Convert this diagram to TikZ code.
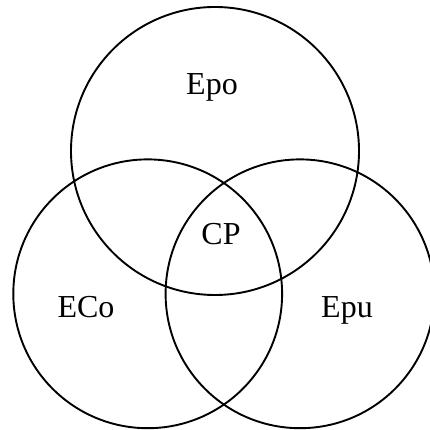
\documentclass[tikz,border=0pt]{standalone}
\usepackage{fontspec}
\setmainfont{Liberation Serif}
\begin{document}
\begin{tikzpicture}[x=1pt,y=1pt,
  setcircle/.style={draw=black,line width=1.9pt,circle,inner sep=0pt,minimum size=#1},
  lbl/.style={font=\fontsize{32}{36}\selectfont,anchor=base,inner sep=0pt}]
\useasboundingbox (0,0) rectangle (429,430);
\node[setcircle=288pt] (epoc) at (215,279) {};
\node[setcircle=268.8pt] (ecoc) at (147.7,136.2) {};
\node[setcircle=268.8pt] (epuc) at (300,136.2) {};
\node[lbl] (epo) at (212,335.7) {Epo};
\node[lbl] (cp) at (221,185) {CP};
\node[lbl] (eco) at (86,112) {ECo};
\node[lbl] (epu) at (347,112) {Epu};
\end{tikzpicture}
\end{document}
